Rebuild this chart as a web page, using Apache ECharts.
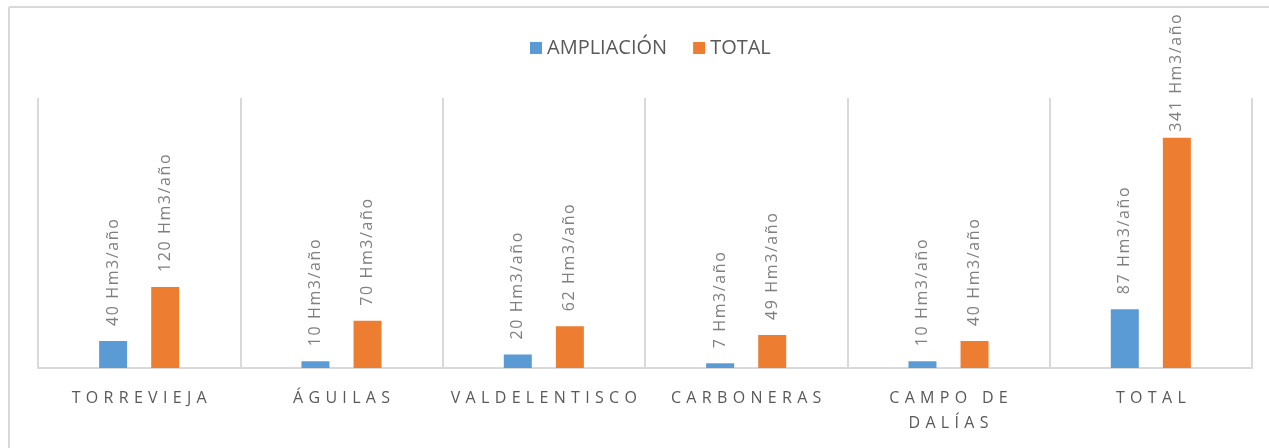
<!DOCTYPE html>
<html><head><meta charset="utf-8">
<script src="https://cdn.jsdelivr.net/npm/echarts@6/dist/echarts.min.js"></script>
<style>html,body{margin:0;padding:0;background:#fff}#c{width:1269px;height:448px}</style>
</head><body><div id="c"></div>
<script>
const categories = ['TORREVIEJA', 'ÁGUILAS', 'VALDELENTISCO', 'CARBONERAS', 'CAMPO DE\nDALÍAS', 'TOTAL'];
const ampliacion = [40, 10, 20, 7, 10, 87];
const total = [120, 70, 62, 49, 40, 341];
const seriesNames = ['AMPLIACIÓN', 'TOTAL'];
const unit = ' Hm3/año';

const space = (s, sp) => s.split('\n').map(l => l.split('').join(sp)).join('\n');
const font = '"Open Sans", "Liberation Sans", sans-serif';
const lbl = {
  show: true, position: 'top', rotate: 90, align: 'left', verticalAlign: 'middle',
  distance: 15, color: '#7f7f7f', fontSize: 16, fontFamily: font,
  formatter: p => space(p.value + unit, '\u200A')
};
const mkData = arr => arr.map(v => v > 300 ? {value: v, label: {distance: 6}} : v);
const chart = echarts.init(document.getElementById('c'));
chart.setOption({
  animation: false,
  graphic: [
    {type: 'line', shape: {x1: 9, y1: 7, x2: 1269, y2: 7}, style: {stroke: '#d9d9d9', lineWidth: 2}},
    {type: 'line', shape: {x1: 9, y1: 7, x2: 9, y2: 448}, style: {stroke: '#d9d9d9', lineWidth: 2}}
  ],
  legend: {
    top: 33, left: 525, itemWidth: 12, itemHeight: 12, itemGap: 26,
    icon: 'rect', textStyle: {color: '#595959', fontSize: 20, fontFamily: font}
  },
  grid: {left: 38, right: 17, top: 98, bottom: 80},
  xAxis: {
    type: 'category', data: categories,
    axisLine: {lineStyle: {color: '#d9d9d9', width: 2}},
    axisTick: {show: false},
    splitLine: {show: true, interval: 0, lineStyle: {color: '#d9d9d9', width: 2}},
    axisLabel: {interval: 0, color: '#595959', fontSize: 16, fontFamily: font, margin: 18, lineHeight: 25,
      formatter: v => space(v, '\u2009\u2009')}
  },
  yAxis: {type: 'value', min: 0, max: 400, show: false, splitLine: {show: false}},
  series: [
    {name: seriesNames[0], type: 'bar', data: mkData(ampliacion), barWidth: 28, barGap: '86%',
     itemStyle: {color: '#5b9bd5'}, label: lbl},
    {name: seriesNames[1], type: 'bar', data: mkData(total), barWidth: 28,
     itemStyle: {color: '#ed7d31'}, label: lbl}
  ]
});
</script></body></html>
